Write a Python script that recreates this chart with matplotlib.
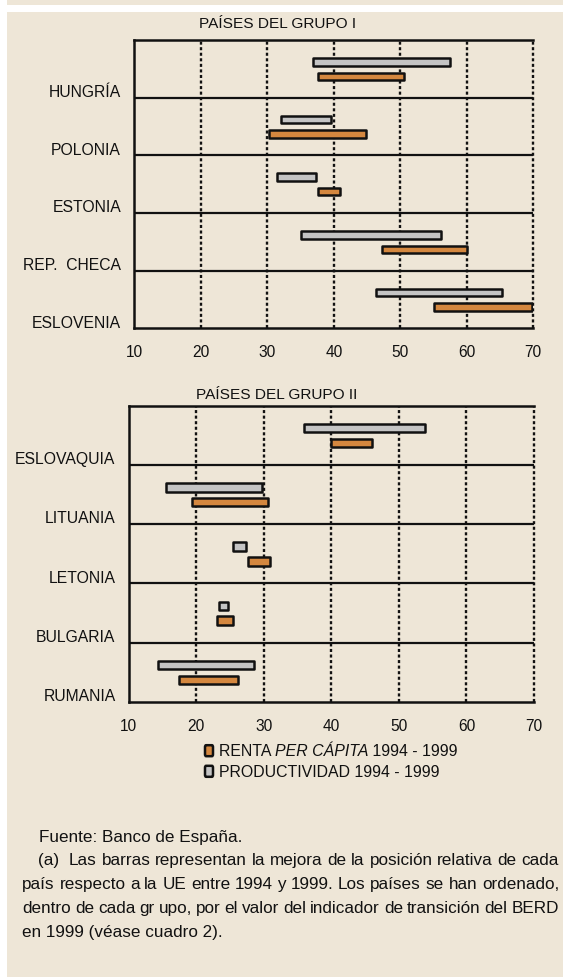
import matplotlib
matplotlib.use("Agg")
import matplotlib.pyplot as plt
import matplotlib.patches as mpatches
import numpy as np

plt.rcParams["font.family"] = ["Liberation Sans", "DejaVu Sans"]
plt.rcParams["lines.scale_dashes"] = False

# ── Data ────────────────────────────────────────────────────────────────────
g1_countries  = ["HUNGRÍA", "POLONIA", "ESTONIA", "REP.  CHECA", "ESLOVENIA"]
g1_prod_start = [36.8, 32.0, 31.5, 35.1, 46.3]
g1_prod_end   = [57.4, 39.6, 37.3, 56.1, 65.3]
g1_rent_start = [37.6, 30.3, 37.6, 47.2, 55.1]
g1_rent_end   = [50.5, 44.9, 40.9, 60.1, 69.8]

g2_countries  = ["ESLOVAQUIA", "LITUANIA", "LETONIA", "BULGARIA", "RUMANIA"]
g2_prod_start = [36.0, 15.5, 25.4, 23.4, 14.3]
g2_prod_end   = [53.8, 29.8, 27.4, 24.7, 28.6]
g2_rent_start = [39.9, 19.4, 27.7, 23.0, 17.4]
g2_rent_end   = [46.0, 30.6, 30.9, 25.5, 26.2]

x_ticks = [10, 20, 30, 40, 50, 60, 70]

BG     = "#EEE6D7"
ORANGE = "#D4873F"
GRAY   = "#C4C4C4"
INK    = "#111111"

W, H = 563, 978
fig = plt.figure(figsize=(W / 100, H / 100), dpi=100)
fig.patch.set_facecolor("white")

def fx(px):
    return px / W

def fy(py):
    return 1 - py / H

# beige panel + thin strip on top
fig.patches.append(mpatches.Rectangle((fx(7), 0), 1 - fx(7), fy(13), transform=fig.transFigure,
                                      facecolor=BG, edgecolor="none", zorder=-10))
fig.patches.append(mpatches.Rectangle((fx(7), fy(6)), 1 - fx(7), 1 - fy(6), transform=fig.transFigure,
                                      facecolor=BG, edgecolor="none", zorder=-10))


def panel(rect, countries, p0, p1, r0, r1, bar_h):
    ax = fig.add_axes(rect)
    ax.set_facecolor("none")
    n = len(countries)
    rows = np.arange(n)
    p0, p1, r0, r1 = map(np.asarray, (p0, p1, r0, r1))
    ax.barh(rows + 0.38, p1 - p0, left=p0, height=bar_h, color=GRAY,
            edgecolor=INK, linewidth=1.8, zorder=3, joinstyle="round")
    ax.barh(rows + 0.63, r1 - r0, left=r0, height=bar_h, color=ORANGE,
            edgecolor=INK, linewidth=1.8, zorder=3, joinstyle="round")
    for xv in x_ticks[1:]:
        ax.axvline(xv, color=INK, linewidth=1.7, linestyle=(0, (2.2, 1.8)),
                   zorder=2, clip_on=False)
    for yv in range(1, n):
        ax.axhline(yv, color=INK, linewidth=1.6, zorder=2)
    ax.set_xlim(10, 70)
    ax.set_ylim(n, 0)
    ax.set_xticks(x_ticks)
    ax.set_xticklabels([str(v) for v in x_ticks], fontsize=11.2, color=INK)
    ax.set_yticks(rows + 0.87)
    ax.set_yticklabels(countries, fontsize=11.3, color=INK)
    ax.tick_params(axis="x", length=0, pad=11.5)
    ax.tick_params(axis="y", length=0, pad=9.5)
    for s in ["top", "bottom", "left"]:
        ax.spines[s].set_linewidth(1.8)
        ax.spines[s].set_color(INK)
    ax.spines["right"].set_visible(False)
    return ax


panel([fx(134.3), fy(329.3), fx(533.3) - fx(134.3), fy(41) - fy(329.3)],
      g1_countries, g1_prod_start, g1_prod_end, g1_rent_start, g1_rent_end, 0.13)
panel([fx(128.7), fy(702.7), fx(534) - fx(128.7), fy(406.7) - fy(702.7)],
      g2_countries, g2_prod_start, g2_prod_end, g2_rent_start, g2_rent_end, 0.145)

fig.text(fx(278), fy(24.5), "PAÍSES DEL GRUPO I", ha="center", va="center",
         fontsize=11.1, color=INK)
fig.text(fx(276.5), fy(395), "PAÍSES DEL GRUPO II", ha="center", va="center",
         fontsize=11.1, color=INK)

# ── Legend (hand drawn) ─────────────────────────────────────────────────────
for py, col in [(751.7, ORANGE), (772.3, GRAY)]:
    fig.patches.append(mpatches.FancyBboxPatch((fx(205), fy(py + 5.5)), fx(8), (11 / H),
                                               boxstyle="round,pad=0,rounding_size=0.002",
                                               transform=fig.transFigure, facecolor=col,
                                               edgecolor=INK, linewidth=1.8))

fig.canvas.draw()
renderer = fig.canvas.get_renderer()
x = 219
for txt, style in [("RENTA ", "normal"), ("PER CÁPITA", "italic"), (" 1994 - 1999", "normal")]:
    t = fig.text(fx(x), fy(751.7), txt, ha="left", va="center", fontsize=11.4,
                 style=style, color=INK)
    x += t.get_window_extent(renderer).width
fig.text(fx(219), fy(772.3), "PRODUCTIVIDAD 1994 - 1999", ha="left", va="center",
         fontsize=11.4, color=INK)

# ── Footnote (justified paragraph) ──────────────────────────────────────────
FOOT_FS = 12.3
RIGHT = 559

def justified(x0, py, line):
    words = line.split(" ")
    texts = [fig.text(0, fy(py), w, ha="left", va="center", fontsize=FOOT_FS, color=INK)
             for w in words]
    widths = [t.get_window_extent(renderer).width for t in texts]
    gap = (RIGHT - x0 - sum(widths)) / (len(words) - 1)
    xx = x0
    for t, w in zip(texts, widths):
        t.set_x(fx(xx))
        xx += w + gap

fig.text(fx(38.8), fy(838), "Fuente: Banco de España.", ha="left", va="center",
         fontsize=FOOT_FS, color=INK)
fig.text(fx(38.0), fy(861), "(a)", ha="left", va="center", fontsize=FOOT_FS, color=INK)
justified(69.0, 861, "Las barras representan la mejora de la posición relativa de cada")
justified(22.3, 884.5, "país respecto a la UE entre 1994 y 1999. Los países se han ordenado,")
justified(22.3, 908.5, "dentro de cada gr upo, por el valor del indicador de transición del BERD")
fig.text(fx(22.3), fy(932.5), "en 1999 (véase cuadro 2).", ha="left", va="center",
         fontsize=FOOT_FS, color=INK)

fig.savefig("out.png", dpi=100, facecolor=fig.get_facecolor())
